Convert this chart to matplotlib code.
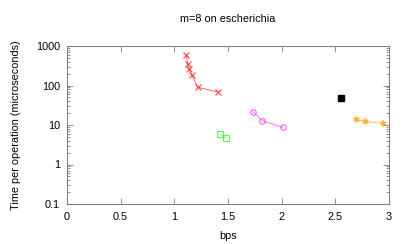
import matplotlib
matplotlib.use("Agg")
import matplotlib.pyplot as plt
from matplotlib.ticker import LogLocator, FixedLocator, NullFormatter

red_x = [1.11, 1.125, 1.14, 1.165, 1.22, 1.41]
red_y = [600, 350, 260, 180, 90, 68]
green_x = [1.43, 1.48]
green_y = [5.9, 4.7]
mag_x = [1.73, 1.82, 2.01]
mag_y = [21.7, 12.8, 8.7]
black_x = [2.555]
black_y = [47]
orange_x = [2.69, 2.775, 2.94]
orange_y = [13.9, 12.4, 11.0]

xticks = [0, 0.5, 1, 1.5, 2, 2.5, 3]
xticklabels = ["0", "0.5", "1", "1.5", "2", "2.5", "3"]
yticks = [0.1, 1, 10, 100, 1000]
yticklabels = ["0.1", "1", "10", "100", "1000"]

plt.rcParams['font.family'] = ['Liberation Sans', 'DejaVu Sans']
fig = plt.figure(figsize=(4.07, 2.44), dpi=100)
ax = fig.add_axes([67/407, 1-204/244, (389-67)/407, (204-46)/244])

ax.plot(red_x, red_y, color='#ff2020', lw=0.6, alpha=0.75, marker='x', ms=4, mew=0.9)
ax.plot(green_x, green_y, color='#44ee44', lw=0.6, alpha=0.85, marker='s', ms=4, mfc='none', mew=0.8)
ax.plot(mag_x, mag_y, color='#ff33ff', lw=0.6, alpha=0.8, marker='o', ms=4, mfc='none', mew=0.8)
ax.plot(black_x, black_y, color='black', lw=0, marker='s', ms=4)
ax.plot(orange_x, orange_y, color='#ffaa22', lw=0.6, alpha=0.9, marker=(6, 2, 0), ms=4.5, mew=0.9)

ax.set_yscale('log')
ax.set_xlim(0, 3)
ax.set_ylim(0.1, 1000)
ax.xaxis.set_major_locator(FixedLocator(xticks))
ax.set_xticklabels(xticklabels)
ax.yaxis.set_major_locator(FixedLocator(yticks))
ax.set_yticklabels(yticklabels)
ax.yaxis.set_minor_locator(LogLocator(base=10, subs=range(2, 10)))
ax.yaxis.set_minor_formatter(NullFormatter())

for sp in ax.spines.values():
    sp.set_color('#808080')
    sp.set_linewidth(0.8)
ax.tick_params(which='both', direction='in', top=True, right=True, colors='#808080',
               labelcolor='black', labelsize=7.8, width=0.6)
ax.tick_params(which='major', length=4)
ax.tick_params(which='minor', length=2)
ax.tick_params(axis='x', pad=6)
ax.tick_params(axis='y', pad=5)

ax.set_title("m=8 on escherichia", fontsize=7.8, pad=17)
ax.set_xlabel("bps", fontsize=7.8, labelpad=6)
ax.set_ylabel("Time per operation (microseconds)", fontsize=7.8, labelpad=10.5)

fig.savefig("out.png", dpi=100)
